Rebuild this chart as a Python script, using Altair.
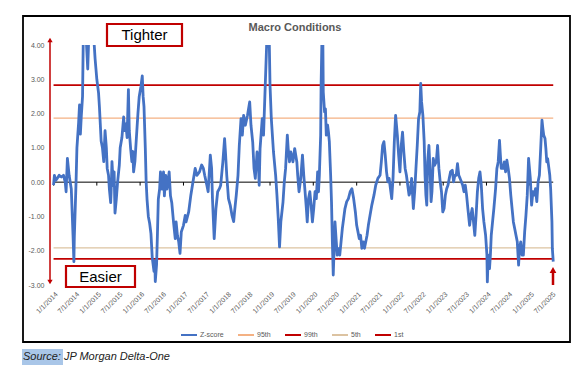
import altair as alt
import pandas as pd

# ---------------- data ----------------
years = [
    2014.00, 2014.02, 2014.05, 2014.08, 2014.13, 2014.18, 2014.23, 2014.27, 2014.29, 2014.32,
    2014.36, 2014.41, 2014.45, 2014.47, 2014.48, 2014.52, 2014.54, 2014.58, 2014.60, 2014.62,
    2014.64, 2014.67, 2014.69, 2014.75, 2014.79, 2014.82, 2014.92, 2014.96, 2014.98, 2015.00,
    2015.02, 2015.04, 2015.06, 2015.08, 2015.10, 2015.13, 2015.16, 2015.19, 2015.22, 2015.24,
    2015.27, 2015.29, 2015.32, 2015.33, 2015.35, 2015.38, 2015.40, 2015.42, 2015.45, 2015.48,
    2015.52, 2015.54, 2015.58, 2015.62, 2015.64, 2015.67, 2015.70, 2015.73, 2015.75, 2015.78,
    2015.81, 2015.83, 2015.85, 2015.88, 2015.91, 2015.93, 2015.95, 2015.98, 2016.02, 2016.05,
    2016.07, 2016.09, 2016.12, 2016.14, 2016.16, 2016.19, 2016.22, 2016.25, 2016.28, 2016.32,
    2016.34, 2016.35, 2016.38, 2016.40, 2016.42, 2016.45, 2016.47, 2016.50, 2016.54, 2016.56,
    2016.59, 2016.62, 2016.67, 2016.70, 2016.73, 2016.77, 2016.81, 2016.83, 2016.86, 2016.89,
    2016.92, 2016.95, 2017.00, 2017.04, 2017.06, 2017.12, 2017.17, 2017.22, 2017.27, 2017.31,
    2017.37, 2017.42, 2017.46, 2017.49, 2017.54, 2017.57, 2017.62, 2017.65, 2017.67, 2017.71,
    2017.75, 2017.79, 2017.83, 2017.86, 2017.91, 2017.95, 2017.97, 2018.00, 2018.04, 2018.08,
    2018.12, 2018.16, 2018.18, 2018.22, 2018.26, 2018.29, 2018.33, 2018.36, 2018.39, 2018.43,
    2018.48, 2018.53, 2018.56, 2018.60, 2018.63, 2018.66, 2018.70, 2018.73, 2018.75, 2018.77,
    2018.82, 2018.85, 2018.89, 2018.93, 2018.98, 2019.00, 2019.03, 2019.08, 2019.13, 2019.16,
    2019.19, 2019.22, 2019.25, 2019.30, 2019.33, 2019.36, 2019.40, 2019.42, 2019.45, 2019.48,
    2019.53, 2019.57, 2019.62, 2019.64, 2019.67, 2019.71, 2019.75, 2019.78, 2019.81, 2019.84,
    2019.86, 2019.89, 2019.92, 2019.95, 2019.98, 2020.01, 2020.04, 2020.07, 2020.10, 2020.12,
    2020.14, 2020.17, 2020.18, 2020.20, 2020.22, 2020.23, 2020.26, 2020.28, 2020.30, 2020.33,
    2020.35, 2020.37, 2020.40, 2020.42, 2020.44, 2020.46, 2020.48, 2020.50, 2020.53, 2020.55,
    2020.58, 2020.61, 2020.64, 2020.67, 2020.70, 2020.73, 2020.77, 2020.81, 2020.85, 2020.89,
    2020.93, 2020.97, 2021.00, 2021.03, 2021.06, 2021.09, 2021.12, 2021.15, 2021.18, 2021.21,
    2021.24, 2021.27, 2021.31, 2021.35, 2021.40, 2021.44, 2021.49, 2021.54, 2021.57, 2021.60,
    2021.63, 2021.66, 2021.69, 2021.72, 2021.75, 2021.78, 2021.81, 2021.84, 2021.87, 2021.90,
    2021.94, 2021.97, 2022.00, 2022.03, 2022.06, 2022.09, 2022.12, 2022.15, 2022.18, 2022.21,
    2022.24, 2022.27, 2022.31, 2022.34, 2022.37, 2022.40, 2022.43, 2022.46, 2022.48, 2022.50,
    2022.53, 2022.56, 2022.58, 2022.60, 2022.62, 2022.64, 2022.67, 2022.70, 2022.72, 2022.74,
    2022.77, 2022.80, 2022.84, 2022.87, 2022.90, 2022.93, 2022.96, 2022.99, 2023.02, 2023.05,
    2023.08, 2023.11, 2023.14, 2023.17, 2023.21, 2023.24, 2023.27, 2023.30, 2023.33, 2023.36,
    2023.39, 2023.42, 2023.45, 2023.48, 2023.51, 2023.54, 2023.57, 2023.61, 2023.64, 2023.67,
    2023.70, 2023.73, 2023.76, 2023.79, 2023.82, 2023.85, 2023.88, 2023.91, 2023.94, 2023.98,
    2024.01, 2024.02, 2024.04, 2024.07, 2024.09, 2024.11, 2024.14, 2024.17, 2024.21, 2024.24,
    2024.27, 2024.30, 2024.32, 2024.34, 2024.38, 2024.41, 2024.44, 2024.47, 2024.50, 2024.53,
    2024.56, 2024.59, 2024.62, 2024.65, 2024.68, 2024.71, 2024.74, 2024.76, 2024.79, 2024.82,
    2024.85, 2024.88, 2024.91, 2024.94, 2024.97, 2025.01, 2025.04, 2025.07, 2025.10, 2025.13,
    2025.16, 2025.19, 2025.22, 2025.25, 2025.28, 2025.30, 2025.32, 2025.35, 2025.37, 2025.39,
    2025.41, 2025.44, 2025.46, 2025.48, 2025.51, 2025.52, 2025.54,
]
zscore = [
    -0.09, 0.20, 0.05, 0.10, 0.20, 0.15, 0.20, 0.00, -0.28, 0.69,
    0.20, -0.20, -1.55, -2.32, -1.60, 0.00, 1.00, 1.75, 2.25, 1.40,
    1.90, 2.50, 4.50, 4.30, 3.30, 4.50, 4.40, 3.60, 3.30, 3.00,
    2.80, 2.60, 2.20, 1.70, 1.20, 1.00, 0.60, 1.50, 1.00, 0.40,
    0.20, -0.20, -0.60, -0.30, 0.60, -0.10, 0.30, -0.90, -0.50, 0.00,
    0.50, 1.00, 1.30, 1.90, 1.50, 1.70, 1.30, 2.70, 1.50, 1.00,
    0.60, 0.90, 0.30, 0.60, 1.20, 1.60, 2.00, 2.50, 2.80, 3.10,
    2.50, 2.20, 1.00, 0.00, -0.50, -1.00, -1.20, -1.50, -2.20, -2.60,
    -2.30, -2.90, -2.40, -1.50, -0.50, -0.20, 0.30, -0.20, 0.30, -0.40,
    0.20, -0.20, 0.30, -0.40, -0.60, -1.16, -1.65, -1.16, -1.55, -1.74,
    -2.08, -1.45, -1.26, -0.97, -1.16, -0.87, -0.38, 0.01, 0.40, 0.20,
    0.30, 0.50, 0.40, 0.20, -0.09, -0.28, 0.79, 0.40, -0.48, -1.65,
    -0.77, -0.28, -0.19, -0.09, 0.59, 1.27, 0.88, 0.20, -0.48, -0.67,
    -0.96, -1.15, -0.87, -0.38, 0.20, 1.07, 1.85, 1.37, 1.95, 1.66,
    1.95, 2.34, 1.66, 1.17, 0.40, 0.11, 0.88, 0.59, -0.09, 0.98,
    1.85, 1.37, 2.83, 4.30, 4.30, 2.83, 1.85, 0.88, 0.20, -0.38,
    -1.06, -1.89, -1.16, -0.58, 0.01, 0.40, 1.37, 0.98, 0.59, 0.88,
    0.59, 0.98, 0.59, 0.20, -0.28, 0.11, 0.79, 0.20, -0.28, -0.77,
    -1.16, -0.48, -0.28, -0.67, -1.16, -0.77, -0.28, -0.48, 0.30, -0.28,
    0.20, 1.37, 2.83, 4.20, 4.20, 2.63, 2.05, 2.14, 1.37, 1.66,
    1.46, 1.18, 0.20, -0.58, -1.74, -2.71, -1.94, -1.16, -1.74, -2.13,
    -1.94, -2.13, -1.74, -1.35, -1.06, -0.77, -0.57, -0.48, -0.28, -0.19,
    -0.48, -0.87, -1.26, -1.45, -1.65, -1.55, -1.93, -1.74, -1.93, -1.74,
    -1.55, -1.26, -0.96, -0.67, -0.38, -0.09, 0.11, 0.20, 0.59, 1.07,
    1.18, 0.79, 0.30, 0.01, 0.11, -0.19, -0.48, 0.11, 1.18, 1.95,
    1.37, 0.79, 0.30, 1.07, 1.46, 0.88, 0.40, 0.20, -0.09, -0.38,
    -0.28, 0.11, -0.77, -0.28, 0.40, 1.07, 1.85, 2.05, 2.88, 2.34,
    1.95, 1.18, 0.20, -0.38, -0.67, 0.59, 1.07, 0.20, -0.57, -0.28,
    0.69, 0.49, 0.59, 1.07, 0.40, 0.01, -0.28, -0.87, -0.77, -0.38,
    -0.19, -0.09, 0.11, 0.30, 0.35, 0.01, 0.20, 0.20, 0.54, 0.20,
    0.11, 0.01, -0.09, -0.28, -0.09, -0.38, -0.77, -1.26, -0.96, -0.77,
    -1.16, -1.55, -0.96, -0.28, 0.11, 0.30, -0.09, -0.77, -1.16, -1.55,
    -2.13, -2.91, -2.13, -2.52, -2.13, -1.55, -1.16, -0.77, -0.19, 0.40,
    0.59, 1.22, 0.79, 0.40, 0.40, 0.59, 0.30, 0.64, 0.40, 0.11,
    -0.38, -0.77, -1.16, -1.35, -1.55, -1.74, -2.42, -1.94, -1.74, -2.13,
    -2.13, -1.45, -0.96, -0.38, 0.69, 0.11, -0.67, -0.28, -0.38, -0.19,
    -0.57, 0.01, 0.20, 0.98, 1.81, 1.57, 1.37, 1.27, 0.98, 0.59,
    0.69, 0.40, 0.20, -0.19, -1.16, -1.94, -2.32,
]

series_names = ["Z-score", "95th", "99th", "5th", "1st"]
series_colors = ["#4472C4", "#F4B183", "#C00000", "#DCC3A1", "#C00000"]
threshold_names = ["95th", "99th", "5th", "1st"]
threshold_values = [1.87, 2.83, -1.92, -2.24]

x_tick_labels = [
    "1/1/2014", "7/1/2014", "1/1/2015", "7/1/2015", "1/1/2016", "7/1/2016",
    "1/1/2017", "7/1/2017", "1/1/2018", "7/1/2018", "1/1/2019", "7/1/2019",
    "1/1/2020", "7/1/2020", "1/1/2021", "7/1/2021", "1/1/2022", "7/1/2022",
    "1/1/2023", "7/1/2023", "1/1/2024", "7/1/2024", "1/1/2025", "7/1/2025",
]
y_ticks = [-3, -2, -1, 0, 1, 2, 3, 4]

chart_title = "Macro Conditions"
label_tighter = "Tighter"
label_easier = "Easier"
source_text = "Source: JP Morgan Delta-One"

FONT = "Liberation Sans"
RED = "#C00000"
GRAY = "#595959"


# ---------------- build tables ----------------
def dec_to_ts(y):
    yr = int(y)
    frac = y - yr
    start = pd.Timestamp(yr, 1, 1)
    end = pd.Timestamp(yr + 1, 1, 1)
    return start + (end - start) * frac


fmt = "%Y-%m-%dT%H:%M:%S"
df = pd.DataFrame({
    "date": [dec_to_ts(y).strftime(fmt) for y in years],
    "value": zscore,
    "series": "Z-score",
})
d_start = df["date"].iloc[0]
d_end = df["date"].iloc[-1]

thr = pd.DataFrame({
    "series": threshold_names,
    "value": threshold_values,
    "start": d_start,
    "end": d_end,
})
thr_red = thr[thr["series"].isin(["99th", "1st"])]
thr_tan = thr[thr["series"].isin(["95th", "5th"])]


def parse_label(s):
    m, d, y = (int(p) for p in s.split("/"))
    return m, d, y


tick_dt = [alt.DateTime(year=y, month=m, date=d) for m, d, y in map(parse_label, x_tick_labels)]
year_ticks = pd.DataFrame({
    "date": [pd.Timestamp(y, m, d).strftime(fmt)
             for m, d, y in map(parse_label, x_tick_labels) if m == 1],
    "v0": 0.0,
    "v1": -0.1,
})

zero_df = pd.DataFrame({"start": [d_start], "end": [d_end], "value": [0.0]})
dummy = pd.DataFrame({"k": [0]})

xscale = alt.Scale(domain=[alt.DateTime(year=2013, month=12, date=2),
                           alt.DateTime(year=2025, month=8, date=1)])
yscale = alt.Scale(domain=[min(y_ticks), max(y_ticks)], nice=False)
cscale = alt.Scale(domain=series_names, range=series_colors)

x_axis = alt.Axis(values=tick_dt, format="%-m/%-d/%Y", labelAngle=-45, grid=False,
                  domain=False, ticks=False, labelPadding=5, labelFontSize=7,
                  labelColor=GRAY, labelFont=FONT, title="", zindex=2,
                  labelOverlap=False, labelFlush=False, labelBound=False)
y_axis = alt.Axis(values=y_ticks, labelExpr="replace(format(datum.value, '.2f'), '\u2212', '-')",
                  grid=False, domain=False, ticks=False, labelPadding=6, labelFontSize=7,
                  labelColor=GRAY, labelFont=FONT, title="", zindex=2,
                  labelOverlap=False, labelFlush=False, labelBound=False)

legend = alt.Legend(orient="none", legendX=130, legendY=281, direction="horizontal",
                    title=None, symbolType="stroke", symbolSize=256, symbolStrokeWidth=2,
                    labelFontSize=7, labelColor=GRAY, labelFont=FONT, columnPadding=10,
                    labelOffset=2)

# ---------------- layers ----------------
border = alt.Chart(dummy).mark_rect(fill="white", stroke="black", strokeWidth=1.8).encode(
    x=alt.value(-27), x2=alt.value(520), y=alt.value(-29), y2=alt.value(297))

tan_rules = alt.Chart(thr_tan).mark_rule(strokeWidth=1.2).encode(
    x=alt.X("start:T", scale=xscale, axis=x_axis),
    x2="end:T",
    y=alt.Y("value:Q", scale=yscale, axis=y_axis),
    color=alt.Color("series:N", scale=cscale, legend=legend),
)
red_rules = alt.Chart(thr_red).mark_rule(strokeWidth=1.8).encode(
    x=alt.X("start:T", scale=xscale, axis=x_axis),
    x2="end:T",
    y=alt.Y("value:Q", scale=yscale, axis=y_axis),
    color=alt.Color("series:N", scale=cscale, legend=legend),
)
zero_line = alt.Chart(zero_df).mark_rule(color="black", strokeWidth=1).encode(
    x=alt.X("start:T", scale=xscale, axis=x_axis), x2="end:T",
    y=alt.Y("value:Q", scale=yscale, axis=y_axis))
zero_ticks = alt.Chart(year_ticks).mark_rule(color="black", strokeWidth=1).encode(
    x=alt.X("date:T", scale=xscale, axis=x_axis),
    y=alt.Y("v0:Q", scale=yscale, axis=y_axis), y2="v1:Q")

zline = alt.Chart(df).mark_line(strokeWidth=2.8, clip=True, strokeJoin="round").encode(
    x=alt.X("date:T", scale=xscale, axis=x_axis),
    y=alt.Y("value:Q", scale=yscale, axis=y_axis),
    color=alt.Color("series:N", scale=cscale, legend=legend),
)

title_mark = alt.Chart(dummy).mark_text(text=chart_title, font=FONT, fontSize=11,
                                        fontWeight="bold", color=GRAY, align="center",
                                        baseline="middle").encode(
    x=alt.value(245), y=alt.value(-17))

tight_box = alt.Chart(dummy).mark_rect(fill="white", stroke=RED, strokeWidth=2.2).encode(
    x=alt.value(57), x2=alt.value(132), y=alt.value(-21), y2=alt.value(1))
tight_txt = alt.Chart(dummy).mark_text(text=label_tighter, font=FONT, fontSize=15,
                                       color="black", align="center", baseline="middle").encode(
    x=alt.value(94.5), y=alt.value(-10))
easy_box = alt.Chart(dummy).mark_rect(fill="white", stroke=RED, strokeWidth=2.2).encode(
    x=alt.value(16), x2=alt.value(85), y=alt.value(221), y2=alt.value(242))
easy_txt = alt.Chart(dummy).mark_text(text=label_easier, font=FONT, fontSize=15,
                                      color="black", align="center", baseline="middle").encode(
    x=alt.value(50.5), y=alt.value(231.5))

arrow_line = alt.Chart(dummy).mark_rule(color=RED, strokeWidth=1.5).encode(
    x=alt.value(0), y=alt.value(-5), y2=alt.value(236))
arrow_up = alt.Chart(dummy).mark_point(shape="triangle-up", filled=True, color=RED,
                                       size=28, opacity=1).encode(
    x=alt.value(0), y=alt.value(-5))
arrow_down = alt.Chart(dummy).mark_point(shape="triangle-down", filled=True, color=RED,
                                         size=28, opacity=1).encode(
    x=alt.value(0), y=alt.value(237))

rarrow_line = alt.Chart(dummy).mark_rule(color=RED, strokeWidth=2.5).encode(
    x=alt.value(503), y=alt.value(226), y2=alt.value(240))
rarrow_head = alt.Chart(dummy).mark_point(shape="triangle-up", filled=True, color=RED,
                                          size=45, opacity=1).encode(
    x=alt.value(503), y=alt.value(225))

src_hl = alt.Chart(dummy).mark_rect(fill="#A9C6E8").encode(
    x=alt.value(-28), x2=alt.value(13), y=alt.value(304), y2=alt.value(320))
src_txt = alt.Chart(dummy).mark_text(text=source_text, font=FONT, fontSize=11,
                                     fontStyle="italic", color="#222222", align="left",
                                     baseline="middle").encode(
    x=alt.value(-27), y=alt.value(312))

chart = alt.layer(
    border, tan_rules, red_rules, zero_line, zero_ticks, zline,
    title_mark, tight_box, tight_txt, easy_box, easy_txt,
    arrow_line, arrow_up, arrow_down, rarrow_line, rarrow_head,
    src_hl, src_txt,
).properties(
    width=505, height=240,
    padding={"left": 42, "top": 37, "right": 20, "bottom": 85},
    autosize=alt.AutoSizeParams(type="none"),
    background="white",
).configure_view(strokeWidth=0).configure_axis(labelOverlap=False)

chart.save("out.html", embed_options={"renderer": "svg", "actions": False})
